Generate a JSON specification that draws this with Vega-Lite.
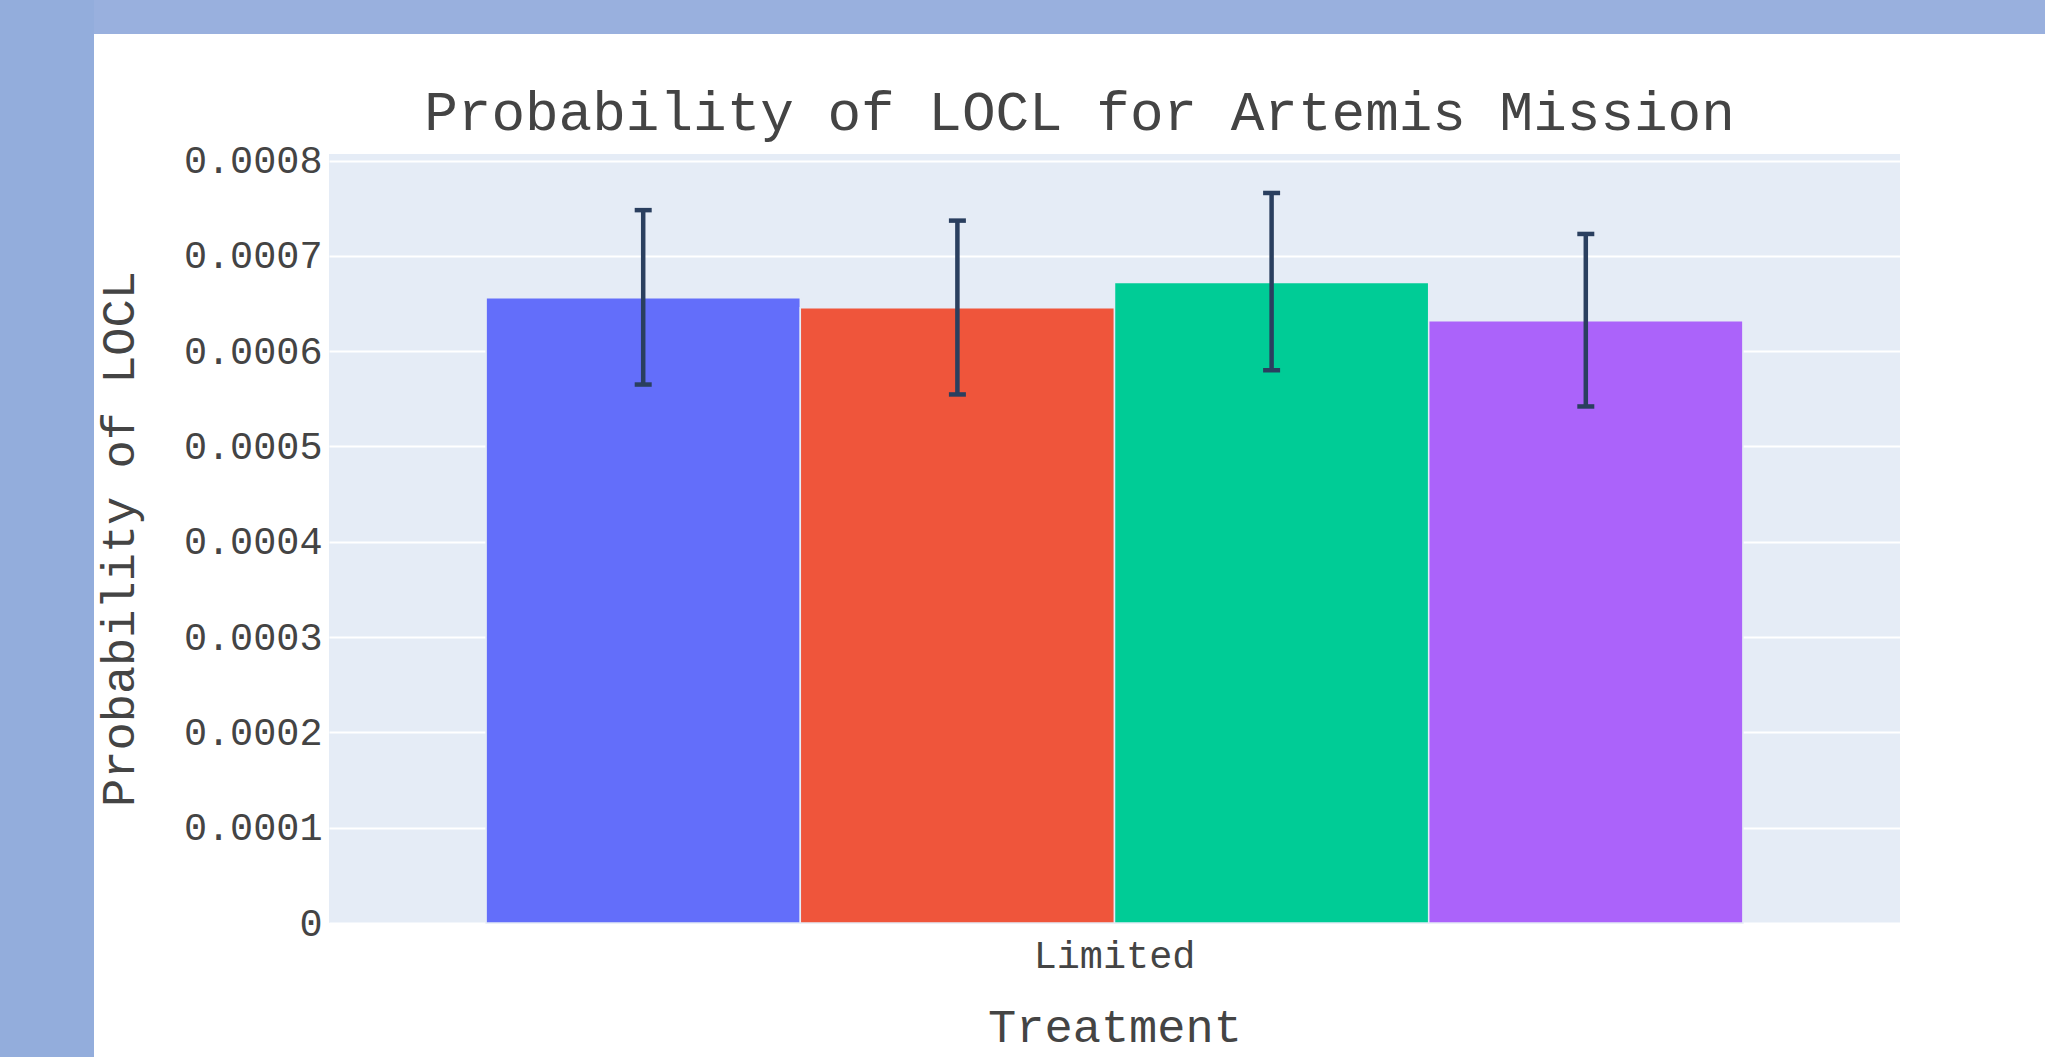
{
  "$schema": "https://vega.github.io/schema/vega-lite/v6.json",
  "background": "white",
  "padding": 0,
  "config": {"view": {"stroke": null}},
  "bounds": "flush",
  "spacing": 0,
  "hconcat": [
    {"width": 94, "height": 1057, "data": {"values": []}, "mark": "rect", "encoding": {}, "view": {"fill": "#93ADDC", "stroke": null}},
    {
      "bounds": "flush",
      "spacing": 0,
      "vconcat": [
        {"width": 1951, "height": 34, "data": {"values": []}, "mark": "rect", "encoding": {}, "view": {"fill": "#99B0DE", "stroke": null}},
        {"width": 1951, "height": 120, "data": {"values": []}, "mark": "rect", "encoding": {}, "view": {"stroke": null}},
        {
          "bounds": "flush",
          "spacing": 0,
          "hconcat": [
            {"width": 235, "height": 769, "data": {"values": []}, "mark": "rect", "encoding": {}, "view": {"stroke": null}},
            {
              "width": 1571,
              "height": 769,
              "view": {"fill": "#E5ECF6", "stroke": null},
              "title": {
                "text": "Probability of LOCL for Artemis Mission",
                "font": "Liberation Mono",
                "fontSize": 56,
                "fontWeight": "normal",
                "color": "#444444",
                "anchor": "middle",
                "frame": "group",
                "dx": -35,
                "offset": 0
              },
              "data": {
                "values": [
                  {"treatment": "Limited", "group": "Group 1", "prob": 0.000656, "lo": 0.000565, "hi": 0.000748},
                  {"treatment": "Limited", "group": "Group 2", "prob": 0.0006455, "lo": 0.0005546, "hi": 0.000737},
                  {"treatment": "Limited", "group": "Group 3", "prob": 0.000672, "lo": 0.00058, "hi": 0.000766},
                  {"treatment": "Limited", "group": "Group 4", "prob": 0.000632, "lo": 0.000542, "hi": 0.000723}
                ]
              },
              "encoding": {
                "x": {
                  "field": "treatment",
                  "type": "nominal",
                  "title": "Treatment",
                  "scale": {"paddingInner": 0.2, "paddingOuter": 0.1},
                  "axis": {
                    "labelAngle": 0,
                    "labelFont": "Liberation Mono",
                    "labelFontSize": 38.5,
                    "labelColor": "#444444",
                    "labelPadding": 14,
                    "ticks": false,
                    "tickSize": 0,
                    "domain": false,
                    "titleFont": "Liberation Mono",
                    "titleFontSize": 47,
                    "titleFontWeight": "normal",
                    "titleColor": "#444444",
                    "titlePadding": 30
                  }
                },
                "xOffset": {
                  "field": "group",
                  "type": "nominal",
                  "sort": null,
                  "scale": {"paddingInner": 0, "paddingOuter": 0}
                }
              },
              "layer": [
                {
                  "mark": {"type": "bar", "stroke": "#E5ECF6", "strokeWidth": 1.5},
                  "encoding": {
                    "y": {
                      "field": "prob",
                      "type": "quantitative",
                      "title": "Probability of LOCL",
                      "scale": {"domain": [0, 0.0008069], "nice": false, "zero": true},
                      "axis": {
                        "values": [0, 0.0001, 0.0002, 0.0003, 0.0004, 0.0005, 0.0006, 0.0007, 0.0008],
                        "labelExpr": "datum.value == 0 ? '0' : format(datum.value, '.4f')",
                        "labelFont": "Liberation Mono",
                        "labelFontSize": 38.5,
                        "labelColor": "#444444",
                        "labelPadding": 7,
                        "ticks": false,
                        "tickSize": 0,
                        "domain": false,
                        "grid": true,
                        "gridColor": "white",
                        "gridWidth": 2,
                        "titleFont": "Liberation Mono",
                        "titleFontSize": 47,
                        "titleFontWeight": "normal",
                        "titleColor": "#444444",
                        "titlePadding": 40
                      }
                    },
                    "color": {
                      "field": "group",
                      "type": "nominal",
                      "legend": null,
                      "scale": {
                        "domain": ["Group 1", "Group 2", "Group 3", "Group 4"],
                        "range": ["#636EFA", "#EF553B", "#00CC96", "#AB63FA"]
                      }
                    }
                  }
                },
                {
                  "mark": {"type": "rule", "color": "#2A3F5F", "strokeWidth": 4.5},
                  "encoding": {
                    "y": {"field": "lo", "type": "quantitative", "title": "Probability of LOCL"},
                    "y2": {"field": "hi"}
                  }
                },
                {
                  "mark": {"type": "tick", "color": "#2A3F5F", "thickness": 4.5, "size": 17, "opacity": 1},
                  "encoding": {
                    "y": {"field": "lo", "type": "quantitative", "title": "Probability of LOCL"}
                  }
                },
                {
                  "mark": {"type": "tick", "color": "#2A3F5F", "thickness": 4.5, "size": 17, "opacity": 1},
                  "encoding": {
                    "y": {"field": "hi", "type": "quantitative", "title": "Probability of LOCL"}
                  }
                }
              ]
            }
          ]
        }
      ]
    }
  ]
}
